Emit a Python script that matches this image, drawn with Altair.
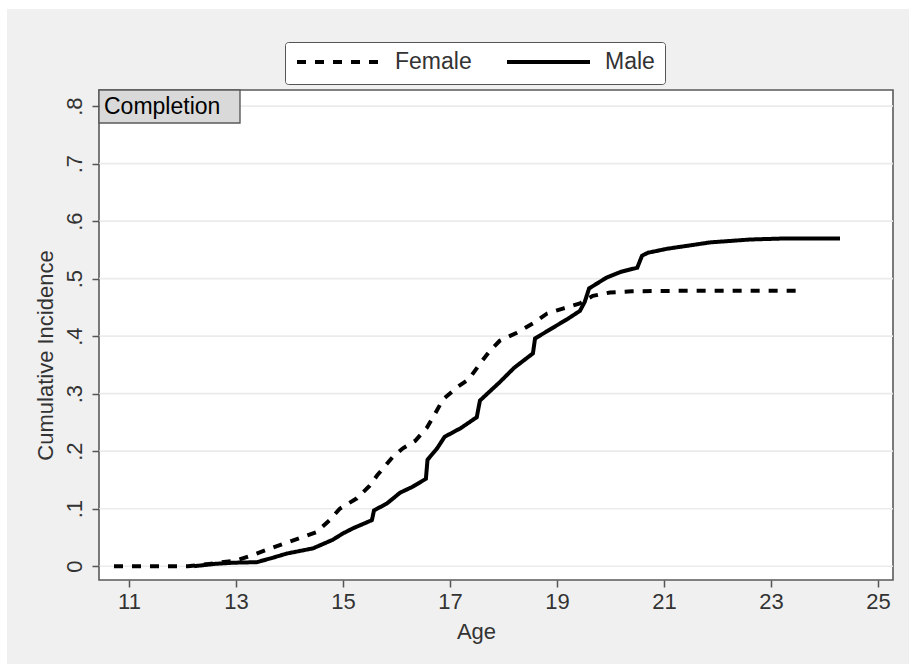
import altair as alt
import pandas as pd

# Cumulative incidence of completion by age, by sex
female_age = [10.72, 12.1, 12.5, 13.0, 13.3, 13.65, 14.2, 14.5, 14.75, 14.94,
              15.26, 15.5, 15.64, 15.93, 16.12, 16.35, 16.57, 16.72, 16.87, 17.13,
              17.35, 17.56, 17.75, 17.93, 18.25, 18.55, 18.81, 19.11, 19.43, 19.67,
              19.99, 20.4, 21.5, 23.58]
female_inc = [0.0, 0.0, 0.004, 0.01, 0.019, 0.031, 0.049, 0.059, 0.08, 0.10,
              0.118, 0.14, 0.158, 0.19, 0.205, 0.218, 0.241, 0.265, 0.29, 0.311,
              0.325, 0.352, 0.375, 0.392, 0.406, 0.422, 0.439, 0.448, 0.457, 0.47,
              0.476, 0.478, 0.479, 0.479]

male_age = [12.22, 12.6, 12.94, 13.39, 13.7, 13.95, 14.44, 14.81, 15.0, 15.19,
            15.54, 15.58, 15.82, 16.07, 16.3, 16.55, 16.58, 16.76, 16.9, 17.2,
            17.5, 17.56, 17.93, 18.2, 18.55, 18.59, 18.93, 19.2, 19.43, 19.52,
            19.6, 19.93, 20.2, 20.5, 20.59, 20.7, 21.06, 21.5, 21.86, 22.6,
            23.3, 24.29]
male_inc = [0.0, 0.004, 0.006, 0.007, 0.015, 0.022, 0.031, 0.046, 0.057, 0.066,
            0.08, 0.097, 0.109, 0.128, 0.138, 0.152, 0.185, 0.205, 0.225, 0.24,
            0.259, 0.288, 0.32, 0.345, 0.37, 0.396, 0.415, 0.43, 0.444, 0.46,
            0.483, 0.502, 0.512, 0.519, 0.54, 0.545, 0.552, 0.558, 0.563, 0.568,
            0.57, 0.57]

sex_labels = ["Female", "Male"]
x_ticks = [11, 13, 15, 17, 19, 21, 23, 25]
y_ticks = [0, 0.1, 0.2, 0.3, 0.4, 0.5, 0.6, 0.7, 0.8]
panel_label = "Completion"

W, H = 794, 490
FONT = "Liberation Sans, Arial, Helvetica, sans-serif"
TXT = "#333333"

curves = pd.concat([
    pd.DataFrame({"age": female_age, "inc": female_inc, "sex": "Female"}),
    pd.DataFrame({"age": male_age, "inc": male_inc, "sex": "Male"}),
])
grid = pd.DataFrame({"inc": y_ticks})

xscale = alt.Scale(domain=[10.44, 25.28], nice=False, zero=False)
yscale = alt.Scale(domain=[-0.024, 0.828], nice=False, zero=False)
one = alt.Data(values=[{"k": 1}])

y_axis = alt.Axis(values=y_ticks, title="Cumulative Incidence", grid=False,
                  domain=False, tickSize=7, tickWidth=1.5, tickColor="#555555",
                  labelExpr="datum.value == 0 ? '0' : replace(format(datum.value, '.1f'), '0.', '.')",
                  labelAngle=270, labelAlign="center", labelBaseline="alphabetic",
                  labelPadding=11, labelFontSize=22, labelColor=TXT, labelFont=FONT,
                  titleFontSize=22, titleColor=TXT, titleFont=FONT,
                  titleFontWeight="normal", titleAngle=270, titleX=-54, titleY=265,
                  titleAlign="center", titleBaseline="middle", zindex=1)
x_axis = alt.Axis(values=x_ticks, title="Age", grid=False, domain=False,
                  tickSize=7, tickWidth=1.5, tickColor="#555555",
                  labelFontSize=22, labelColor=TXT, labelFont=FONT, labelPadding=4,
                  titleFontSize=22, titleColor=TXT, titleFont=FONT,
                  titleFontWeight="normal", titleX=377, titleY=51,
                  titleBaseline="middle", titleAlign="center", zindex=1)

# outer graph region (light gray) and white plot region
outer = alt.Chart(one).mark_rect(color="#f0f0f0").encode(
    x=alt.value(-92), x2=alt.value(W + 16), y=alt.value(-81), y2=alt.value(H + 84)
)
plot_bg = alt.Chart(one).mark_rect(fill="white", stroke="#5a5a5a", strokeWidth=1.6).encode(
    x=alt.value(0), x2=alt.value(W), y=alt.value(0), y2=alt.value(H)
)

gridlines = alt.Chart(grid).mark_rule(color="#ebebeb", strokeWidth=1.6).encode(
    y=alt.Y("inc:Q", scale=yscale, axis=y_axis),
    x=alt.value(0), x2=alt.value(W),
)

lines = alt.Chart(curves).mark_line(color="black", strokeWidth=4).encode(
    x=alt.X("age:Q", scale=xscale, axis=x_axis),
    y=alt.Y("inc:Q", scale=yscale, axis=y_axis),
    strokeDash=alt.StrokeDash(
        "sex:N",
        scale=alt.Scale(domain=sex_labels, range=[[9, 9], [1, 0]]),
        legend=alt.Legend(title=None, orient="none", legendX=186, legendY=-48,
                          direction="horizontal", columns=2,
                          symbolType="stroke", symbolSize=83 * 83, symbolStrokeWidth=4,
                          symbolStrokeColor="black", clipHeight=20,
                          labelFontSize=23, labelColor=TXT, labelFont=FONT,
                          labelOffset=13, columnPadding=33, padding=10,
                          fillColor="white", strokeColor="#555555", cornerRadius=3),
    ),
    order=alt.Order("age:Q"),
)

label_box = alt.Chart(one).mark_rect(fill="#d9d9d9", stroke="#5a5a5a", strokeWidth=1.4).encode(
    x=alt.value(0), x2=alt.value(141), y=alt.value(0), y2=alt.value(33)
)
label_text = alt.Chart(one).mark_text(
    align="left", baseline="middle", fontSize=23, font=FONT, color="black"
).encode(x=alt.value(5), y=alt.value(17), text=alt.value(panel_label))

chart = alt.layer(outer, plot_bg, gridlines, lines, label_box, label_text).properties(
    width=W, height=H,
    padding={"left": 7, "top": 9, "right": 0, "bottom": 0},
    background="white",
).configure_view(stroke=None, fill=None)

chart.save("out.html", embed_options={"renderer": "svg", "actions": False})
